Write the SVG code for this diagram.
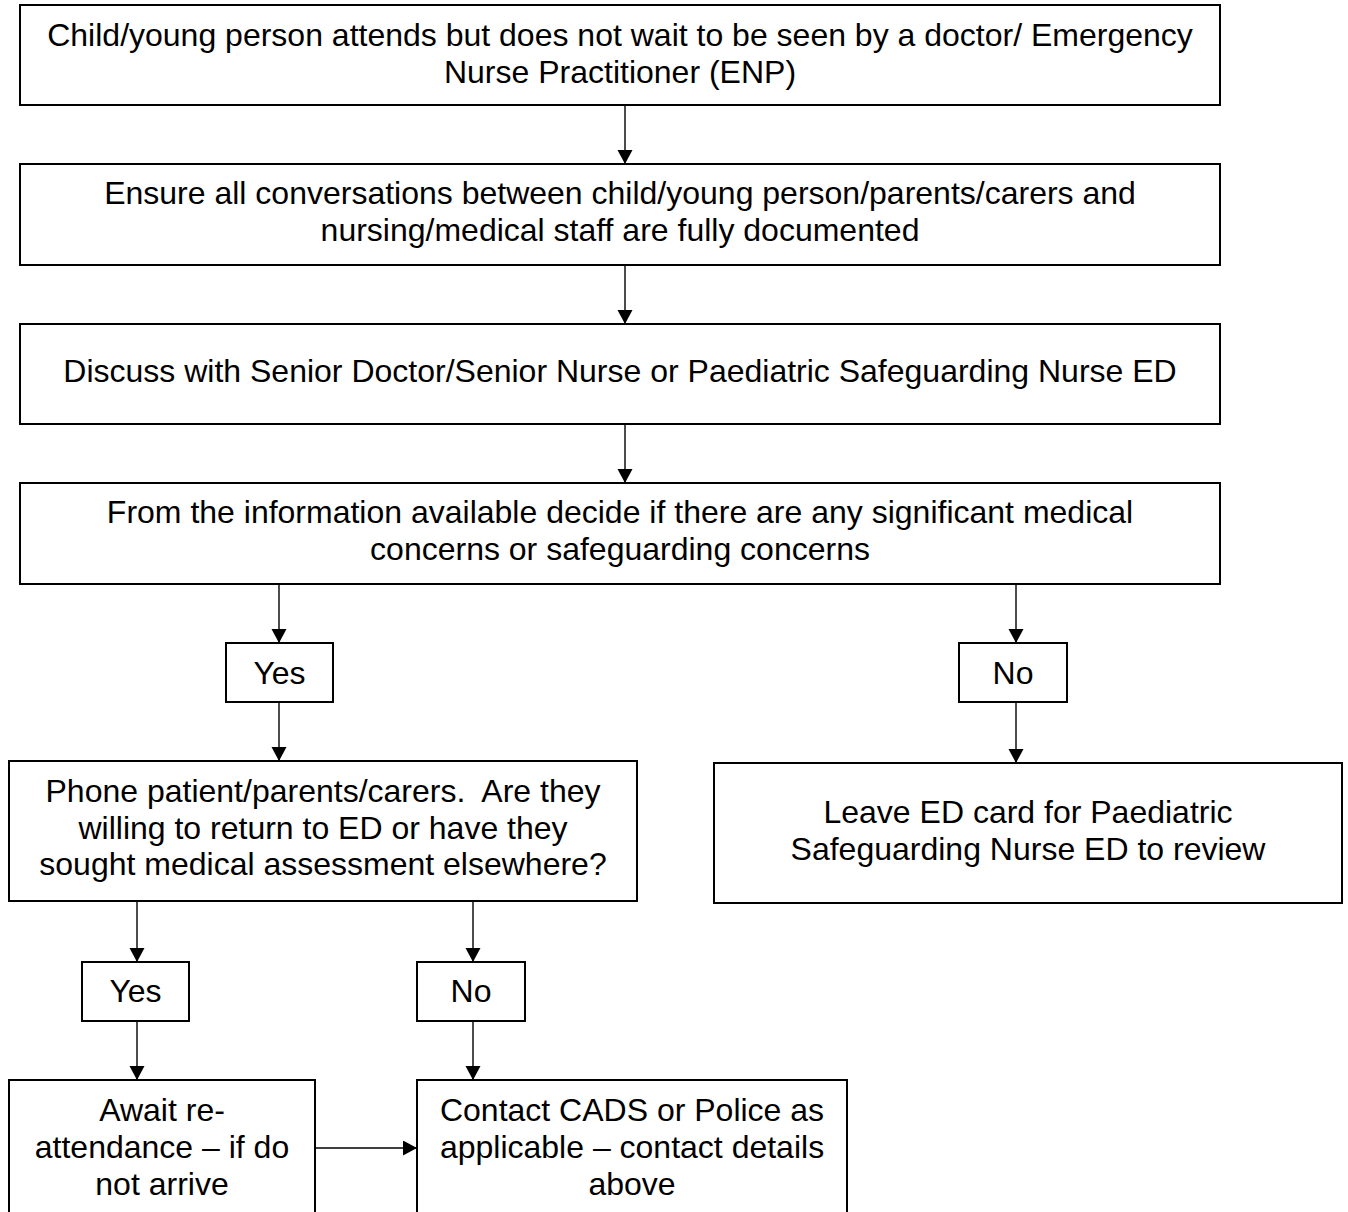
<svg xmlns="http://www.w3.org/2000/svg" width="1348" height="1212" viewBox="0 0 1348 1212">
<style>
.box{fill:#fff;stroke:#000;stroke-width:2}
.t{font-family:"Liberation Sans",Arial,sans-serif;font-size:32px;fill:#000;text-anchor:middle;white-space:pre}
.c{stroke:#000;stroke-width:1.4;fill:none}
</style>
<defs>
<marker id="ah" markerUnits="userSpaceOnUse" markerWidth="15" markerHeight="16" refX="14" refY="7.5" orient="auto">
<path d="M0,0 L14,7.5 L0,15 Z" fill="#000"/>
</marker>
</defs>
<rect width="1348" height="1212" fill="#fff"/>
<g id="n1"><rect class="box" x="20" y="5" width="1200" height="100"/>
<text class="t" x="620" y="46">Child/young person attends but does not wait to be seen by a doctor/ Emergency</text>
<text class="t" x="620" y="83">Nurse Practitioner (ENP)</text></g>
<g id="n2"><rect class="box" x="20" y="164" width="1200" height="101"/>
<text class="t" x="620" y="204">Ensure all conversations between child/young person/parents/carers and</text>
<text class="t" x="620" y="241">nursing/medical staff are fully documented</text></g>
<g id="n3"><rect class="box" x="20" y="324" width="1200" height="100"/>
<text class="t" x="620" y="382">Discuss with Senior Doctor/Senior Nurse or Paediatric Safeguarding Nurse ED</text></g>
<g id="n4"><rect class="box" x="20" y="483" width="1200" height="101"/>
<text class="t" x="620" y="523">From the information available decide if there are any significant medical</text>
<text class="t" x="620" y="560">concerns or safeguarding concerns</text></g>
<g id="n5"><rect class="box" x="226" y="643" width="107" height="59"/>
<text class="t" x="279.5" y="684">Yes</text></g>
<g id="n6"><rect class="box" x="959" y="643" width="108" height="59"/>
<text class="t" x="1013" y="684">No</text></g>
<g id="n7"><rect class="box" x="9" y="761" width="628" height="140"/>
<text class="t" x="323" y="802">Phone patient/parents/carers.  Are they</text>
<text class="t" x="323" y="839">willing to return to ED or have they</text>
<text class="t" x="323" y="875">sought medical assessment elsewhere?</text></g>
<g id="n8"><rect class="box" x="714" y="763" width="628" height="140"/>
<text class="t" x="1028" y="823">Leave ED card for Paediatric</text>
<text class="t" x="1028" y="860">Safeguarding Nurse ED to review</text></g>
<g id="n9"><rect class="box" x="82" y="962" width="107" height="59"/>
<text class="t" x="135.5" y="1002">Yes</text></g>
<g id="n10"><rect class="box" x="417" y="962" width="108" height="59"/>
<text class="t" x="471" y="1002">No</text></g>
<g id="n11"><rect class="box" x="9" y="1080" width="306" height="145"/>
<text class="t" x="162" y="1121">Await re-</text>
<text class="t" x="162" y="1158">attendance – if do</text>
<text class="t" x="162" y="1195">not arrive</text></g>
<g id="n12"><rect class="box" x="417" y="1080" width="430" height="145"/>
<text class="t" x="632" y="1121">Contact CADS or Police as</text>
<text class="t" x="632" y="1158">applicable – contact details</text>
<text class="t" x="632" y="1195">above</text></g>
<g id="connectors">
<line class="c" x1="625" y1="104" x2="625" y2="164" marker-end="url(#ah)"/>
<line class="c" x1="625" y1="264" x2="625" y2="324" marker-end="url(#ah)"/>
<line class="c" x1="625" y1="423" x2="625" y2="483" marker-end="url(#ah)"/>
<line class="c" x1="279" y1="583" x2="279" y2="643" marker-end="url(#ah)"/>
<line class="c" x1="1016" y1="583" x2="1016" y2="643" marker-end="url(#ah)"/>
<line class="c" x1="279" y1="701" x2="279" y2="761" marker-end="url(#ah)"/>
<line class="c" x1="1016" y1="701" x2="1016" y2="763" marker-end="url(#ah)"/>
<line class="c" x1="137" y1="900" x2="137" y2="962" marker-end="url(#ah)"/>
<line class="c" x1="473" y1="900" x2="473" y2="962" marker-end="url(#ah)"/>
<line class="c" x1="137" y1="1020" x2="137" y2="1080" marker-end="url(#ah)"/>
<line class="c" x1="473" y1="1020" x2="473" y2="1080" marker-end="url(#ah)"/>
<line class="c" x1="315" y1="1148" x2="417" y2="1148" marker-end="url(#ah)"/>
</g>
</svg>
